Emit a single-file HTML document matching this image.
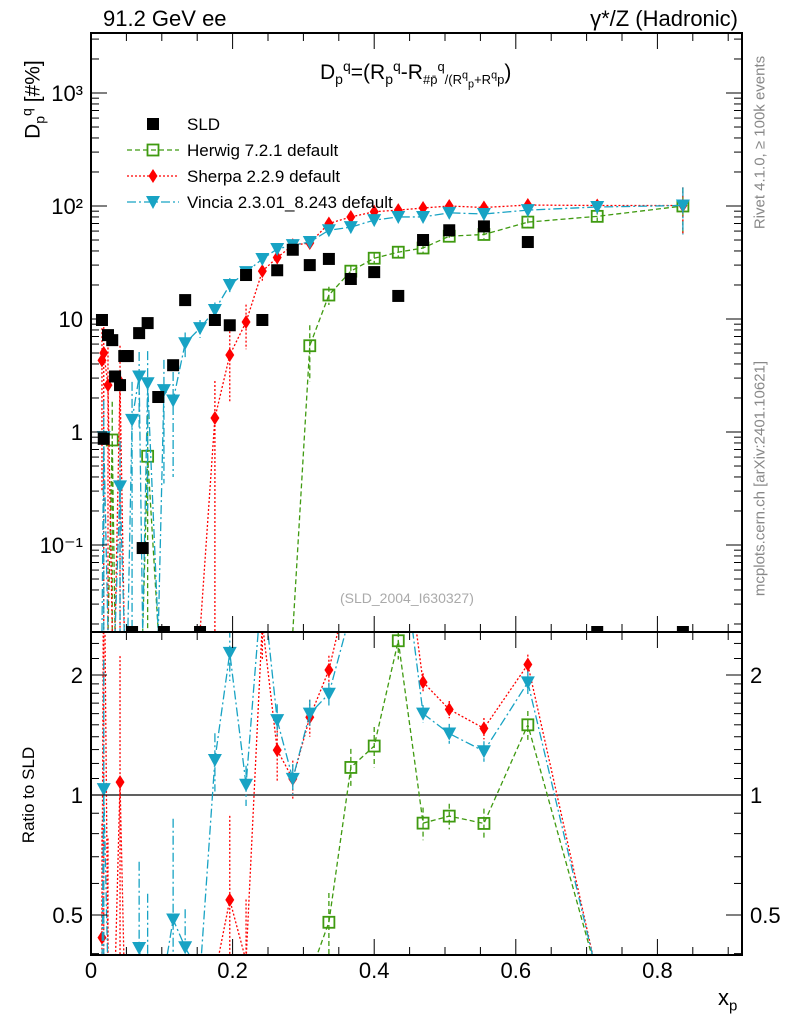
<!DOCTYPE html>
<html><head><meta charset="utf-8"><style>
body{margin:0;background:#fff}
svg{display:block;font-family:"Liberation Sans",sans-serif}
</style></head><body>
<svg id="c" width="786" height="1024" xmlns="http://www.w3.org/2000/svg"></svg>
<script>
const xs=[0.0155,0.018,0.024,0.030,0.034,0.041,0.047,0.052,0.058,0.068,0.073,0.080,0.095,0.103,0.116,0.133,0.154,0.175,0.196,0.219,0.242,0.263,0.285,0.309,0.336,0.367,0.400,0.434,0.469,0.506,0.555,0.617,0.715,0.836];
const sld=[9.8,0.87,7.2,6.5,3.1,2.6,4.7,4.7,0,7.5,0.094,9.2,2.04,0,3.9,14.7,0,9.8,8.8,24.5,9.8,27,41,30,34,22.6,26,16,50,61,66,48,0,0];
const vincia=[0,0.9,0,0,0,0.33,0,0,1.28,3.1,0,2.7,0,2.35,1.9,6.1,8.3,12,20,26,34,41.6,45,48,61,65,75,80,80,87,85,92,98,101];
const vinciaErr=[0,1,0,0,0,0.5,0,0,1.5,2,0,2.5,0,2,1.5,1.5,1.5,2,3,3,4,4,4,4,4,4,4,4,4,5,5,6,8,45];
const sherpa=[4.3,5.0,2.6,0,0,2.8,0,0,0,0,0,0,0,0,0,0,0,1.33,4.8,9.4,26.5,35,45,47,70,80,89,92,96,100,97,102,101,101];
const sherpaErr=[4,5,3,0,0,3,0,0,0,0,0,0,0,0,0,0,0,1.5,3,4,5,6,5,5,6,5,5,5,5,5,6,6,8,45];
const herwig=[0,0,0,0.85,0,0,0,0,0,0,0,0.61,0,0,0,0,0,0,0,0,0,0,0,5.8,16.3,26.5,34.5,39,42.5,54,56,72,81,100];
const herwigErr=[0,0,0,1,0,0,0,0,0,0,0,0.8,0,0,0,0,0,0,0,0,0,0,0,3,3,3,4,4,4,4,5,6,12,45];
const xTicks=[0,0.2,0.4,0.6,0.8];
const yTickLabels=["10³","10²","10","1","10⁻¹"];

const S=document.getElementById('c');const NS="http://www.w3.org/2000/svg";
function el(t,a,p){const e=document.createElementNS(NS,t);for(const k in a)e.setAttribute(k,a[k]);(p||S).appendChild(e);return e;}
const L=91,R=742,T=33,MB=632,RB=955;
const X=v=>L+v*708;
const Y=v=>v>0?Math.min(MB,432-113*Math.log10(v)):MB;
const RY=v=>v>0?Math.max(T,Math.min(RB+20,795-120*Math.log2(v))):RB+20;
const defs=el('defs',{});
const c1=el('clipPath',{id:'cm'},defs);el('rect',{x:L,y:T,width:R-L,height:MB-T},c1);
const c2=el('clipPath',{id:'cr'},defs);el('rect',{x:L,y:MB,width:R-L,height:RB-MB},c2);

const series=[
 {name:'herwig',v:herwig,e:herwigErr,col:'#3f9a10',dash:'5,3',m:'osq'},
 {name:'sherpa',v:sherpa,e:sherpaErr,col:'#f00',dash:'2,2',m:'dia'},
 {name:'vincia',v:vincia,e:vinciaErr,col:'#18a3c4',dash:'9,3,2,3',m:'tri'}];
function marker(g,m,x,y,col){
 if(m==='osq')return el('rect',{x:x-5.5,y:y-5.5,width:11,height:11,fill:'none',stroke:col,'stroke-width':1.8},g);
 if(m==='dia')return el('path',{d:`M${x},${y-7}L${x+4.5},${y}L${x},${y+7}L${x-4.5},${y}Z`,fill:col},g);
 if(m==='tri')return el('path',{d:`M${x-7},${y-6}L${x+7},${y-6}L${x},${y+7}Z`,fill:col},g);
 return el('rect',{x:x-6,y:y-6,width:12,height:12,fill:'#000'},g);
}
const gm=el('g',{'clip-path':'url(#cm)'});

series.forEach(s=>{
 const g=el('g',{},gm);
 
 
 el('polyline',{points:xs.map((x,i)=>X(x)+','+Y(s.v[i])).join(' '),fill:'none',stroke:s.col,'stroke-width':1.3,'stroke-dasharray':s.dash},g);
 xs.forEach((x,i)=>{
  if(s.v[i]<=0)return;
  const e=s.e[i];
  el('line',{x1:X(x),x2:X(x),y1:Y(s.v[i]+e),y2:Y(s.v[i]-e),stroke:s.col,'stroke-width':1.3,'stroke-dasharray':s.dash},g);
  const mk=marker(g,s.m,X(x),Y(s.v[i]),s.col);
  
  
 });
});
const gs=el('g',{},gm);

xs.forEach((x,i)=>{const mk=marker(gs,'sq',X(x),Y(sld[i]),'#000');
 
 });
const gr=el('g',{'clip-path':'url(#cr)'});

el('line',{x1:L,x2:R,y1:795,y2:795,stroke:'#000','stroke-width':1.3},gr);
series.forEach(s=>{
 const g=el('g',{},gr);
 
 
 const rat=xs.map((x,i)=>sld[i]>0?s.v[i]/sld[i]:0);
 el('polyline',{points:xs.map((x,i)=>X(x)+','+RY(rat[i])).join(' '),fill:'none',stroke:s.col,'stroke-width':1.3,'stroke-dasharray':s.dash},g);
 xs.forEach((x,i)=>{
  if(s.v[i]<=0||sld[i]<=0)return;
  const r=rat[i],e=s.e[i]/sld[i];
  el('line',{x1:X(x),x2:X(x),y1:RY(r+e),y2:RY(r-e),stroke:s.col,'stroke-width':1.3,'stroke-dasharray':s.dash},g);
  const mk=marker(g,s.m,X(x),RY(r),s.col);
  
  
 });
});
el('rect',{x:L,y:T,width:R-L,height:MB-T,fill:'none',stroke:'#000','stroke-width':2});
el('rect',{x:L,y:MB,width:R-L,height:RB-MB,fill:'none',stroke:'#000','stroke-width':2});
for(let d=-2;d<=3;d++){for(let k=1;k<10;k++){const v=k*Math.pow(10,d);const y=Y(v);if(y<=T||y>=MB)continue;const len=k===1?16:8;
 el('line',{x1:L,x2:L+len,y1:y,y2:y,stroke:'#000'});el('line',{x1:R,x2:R-len,y1:y,y2:y,stroke:'#000'});}}
const ytv=[1000,100,10,1,0.1];
yTickLabels.forEach((t,i)=>{const tx=el('text',{x:L-8,y:Y(ytv[i])+8,'text-anchor':'end','font-size':22});tx.textContent=t;
 });
[0.4,0.5,0.6,0.7,0.8,0.9,1,1.1,1.2,1.3,1.4,1.5,1.6,1.7,1.8,1.9,2,2.2,2.4].forEach(v=>{const y=RY(v);if(y<=MB||y>=RB)return;const len=(v===0.5||v===1||v===2)?16:8;
 el('line',{x1:L,x2:L+len,y1:y,y2:y,stroke:'#000'});el('line',{x1:R,x2:R-len,y1:y,y2:y,stroke:'#000'});});
[[2,'2'],[1,'1'],[0.5,'0.5']].forEach(([v,t])=>{
 const a=el('text',{x:L-8,y:RY(v)+8,'text-anchor':'end','font-size':22});a.textContent=t;
 
 const b=el('text',{x:R+8,y:RY(v)+8,'font-size':22});b.textContent=t;
 });
for(let v=0;v<=0.92;v+=0.05){const x=X(v);const maj=Math.abs(v*10-Math.round(v*10))<0.01&&Math.round(v*10)%2===0;const len=maj?16:8;
 [[T,1],[MB,-1],[MB,1],[RB,-1]].forEach(([y0,d])=>el('line',{x1:x,x2:x,y1:y0,y2:y0+d*len,stroke:'#000'}));}
xTicks.forEach(v=>{const t=el('text',{x:X(v),y:978,'text-anchor':'middle','font-size':22});t.textContent=String(v);
 });
// legend
const lg=el('g',{});

const legY=[124,150,176,202];
const legT=['SLD','Herwig 7.2.1 default','Sherpa 2.2.9 default','Vincia 2.3.01_8.243 default'];
const legS=[null].concat(series);
legT.forEach((t,i)=>{
 const y=legY[i];
 if(i>0)el('line',{x1:127,x2:179,y1:y,y2:y,stroke:legS[i].col,'stroke-width':1.3,'stroke-dasharray':legS[i].dash},lg);
 marker(lg,i?legS[i].m:'sq',153,y,i?legS[i].col:'#000');
 const tx=el('text',{x:187,y:y+6,'font-size':17},lg);tx.textContent=t;
 
});
</script>
<div style="position:absolute;left:0;top:0;width:786px;height:1024px;font-family:'Liberation Sans',sans-serif;pointer-events:none">
<div style="position:absolute;left:103px;top:6px;font-size:22px">91.2 GeV ee</div>
<div style="position:absolute;right:48px;top:6px;font-size:22px">γ*/Z (Hadronic)</div>
<div style="position:absolute;left:320px;top:58px;font-size:21px">D<sub style="font-size:14px">p</sub><sup style="font-size:14px">q</sup>=(R<sub style="font-size:14px">p</sub><sup style="font-size:14px">q</sup>-R<sub style="font-size:13px">#p̄</sub><sup style="font-size:13px">q</sup><sub style="font-size:13px">/(R<sup>q</sup><sub>p</sub>+R<sup>q</sup>p</sub>)</div>
<div style="position:absolute;left:-22px;top:85px;transform:rotate(-90deg);font-size:21px;width:110px;text-align:center">D<sub style="font-size:14px">p</sub><sup style="font-size:14px">q</sup> [#%]</div>
<div style="position:absolute;left:-36px;top:785px;transform:rotate(-90deg);font-size:17px;width:130px;text-align:center">Ratio to SLD</div>
<div style="position:absolute;left:718px;top:985px;font-size:22px">x<sub style="font-size:15px">p</sub></div>
<div style="position:absolute;left:340px;top:590px;font-size:14px;color:#aaa">(SLD_2004_I630327)</div>
<div style="position:absolute;left:660px;top:134px;transform:rotate(-90deg);font-size:15px;color:#888;width:200px;text-align:center">Rivet 4.1.0, ≥ 100k events</div>
<div style="position:absolute;left:610px;top:470px;transform:rotate(-90deg);font-size:15px;color:#888;width:300px;text-align:center">mcplots.cern.ch [arXiv:2401.10621]</div>
</div>
</body></html>
